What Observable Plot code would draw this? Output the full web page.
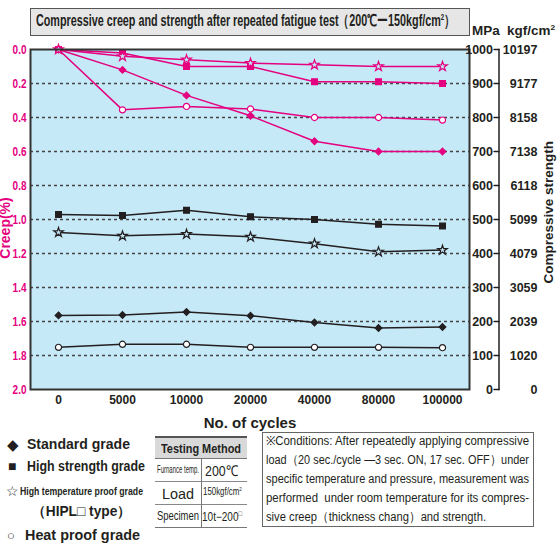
<!DOCTYPE html>
<html><head><meta charset="utf-8">
<script src="https://cdn.jsdelivr.net/npm/d3@7"></script>
<script src="https://cdn.jsdelivr.net/npm/@observablehq/plot@0.6"></script>
<style>
body{margin:0;background:#fff;}
#wrap{position:relative;width:559px;height:545px;font-family:"Liberation Sans",Arial,sans-serif;color:#231f20;overflow:hidden;}
#chart{position:absolute;left:0;top:0;}
#titlebox{position:absolute;left:30px;top:8px;width:438px;height:26px;border:1px solid #555;background:#e6e6e6;}
.fit{position:absolute;white-space:nowrap;transform-origin:0 50%;line-height:1;}
.hl{position:absolute;height:0;}
.vl{position:absolute;width:0;}
#cond{position:absolute;left:262px;top:432px;width:270px;height:93px;border:1px solid #666;}
</style></head><body>
<div id="wrap">
  <div id="chart"></div>
  <div id="titlebox"></div>
  <div id="tablebox">
    <div style="position:absolute;left:155px;top:437px;width:92px;height:21px;background:#d9d9d9;"></div>
    <div class="hl" style="left:155px;top:436px;width:92px;border-top:2px solid #555;"></div>
    <div class="hl" style="left:155px;top:458px;width:92px;border-top:1px solid #777;"></div>
    <div class="hl" style="left:155px;top:481px;width:92px;border-top:1px solid #888;"></div>
    <div class="hl" style="left:155px;top:504px;width:92px;border-top:1px solid #888;"></div>
    <div class="hl" style="left:155px;top:527px;width:92px;border-top:1px solid #777;"></div>
    <div class="vl" style="left:201px;top:458px;height:69px;border-left:1px solid #777;"></div>
  </div>
  <div id="cond"></div>
  <div id="texts"></div>
</div>
<script>
// ---- data ----
const cycles = ["0", "5000", "10000", "20000", "40000", "80000", "100000"];
const grades = ["Standard grade", "High strength grade", "High temperature proof grade", "Heat proof grade"];
const gradeSymbols = ["diamond2", "square", "star", "circle"];

// creep (%) vs cycles
const creepStandard     = [0, 0.12, 0.27, 0.39, 0.54, 0.60, 0.60];
const creepHighStrength = [0, 0.02, 0.10, 0.10, 0.19, 0.19, 0.20];
const creepHighTemp     = [0, 0.04, 0.06, 0.08, 0.09, 0.10, 0.10];
const creepHeatProof    = [0, 0.355, 0.335, 0.35, 0.40, 0.40, 0.415];

// compressive strength (MPa) vs cycles
const strengthStandard     = [218, 219, 228, 217, 197, 181, 184];
const strengthHighStrength = [515, 512, 527, 508, 500, 486, 481];
const strengthHighTemp     = [462, 452, 457, 449, 429, 405, 410];
const strengthHeatProof    = [124, 133, 133, 124, 124, 124, 123];

// axes
const creepTicks = [0, 0.2, 0.4, 0.6, 0.8, 1.0, 1.2, 1.4, 1.6, 1.8, 2.0];
const mpaTicks = [1000, 900, 800, 700, 600, 500, 400, 300, 200, 100, 0];
const kgfTicks = ["10197", "9177", "8158", "7138", "6118", "5099", "4079", "3059", "2039", "1020", "0"];
const gridTicks = [0.2, 0.4, 0.6, 0.8, 1.0, 1.2, 1.4, 1.6, 1.8];

// texts
const titleText = "Compressive creep and strength after repeated fatigue test（200℃ー150kgf/cm<sup style=\"font-size:9px\">2</sup>）";
const conditionLines = [
  "※Conditions: After repeatedly applying compressive",
  "load（20 sec./cycle —3 sec. ON, 17 sec. OFF）under",
  "specific temperature and pressure, measurement was",
  "performed&nbsp; under room temperature for its compres-",
  "sive creep（thickness chang）and strength."
];

// ---- build table ----
const MAG = "#e4007f", BLK = "#231f20", BG = "#c6e9f8";
const creepSets = [creepStandard, creepHighStrength, creepHighTemp, creepHeatProof];
const strengthSets = [strengthStandard, strengthHighStrength, strengthHighTemp, strengthHeatProof];
const rows = [];
grades.forEach((g, gi) => {
  cycles.forEach((c, i) => {
    rows.push({grade: g, kind: "creep", cycle: c, y: creepSets[gi][i], symbol: gradeSymbols[gi]});
    // strength on the shared scale: 1000 MPa ↔ 0 %, 0 MPa ↔ 2 %
    rows.push({grade: g, kind: "strength", cycle: c, y: (1000 - strengthSets[gi][i]) / 500, symbol: gradeSymbols[gi]});
  });
});
const color = d => d.kind === "creep" ? MAG : BLK;
const fillFor = d => d.symbol === "circle" ? "#fff" : d.symbol === "star" ? BG : color(d);
const rFor = d => d.symbol === "diamond2" ? 4.6 : d.symbol === "square" ? 5.4 : d.symbol === "star" ? 4.5 : 4.8;
const tickShape = {draw(ctx, l) { ctx.moveTo(0, 0); ctx.lineTo(0, -l); }};
const FONT = '"Liberation Sans", Arial, sans-serif';

const chart = Plot.plot({
  width: 559,
  height: 440,
  marginTop: 49,
  marginBottom: 51,
  marginLeft: 30,
  marginRight: 90,
  style: {fontFamily: FONT, background: "transparent"},
  x: {type: "point", domain: cycles, padding: 0.4},
  y: {domain: [0, 2], reverse: true},
  marks: [
    Plot.frame({fill: BG}),
    Plot.ruleY(gridTicks, {stroke: "#444", strokeWidth: 1.4, strokeDasharray: "3,3"}),
    Plot.line(rows, {x: "cycle", y: "y", z: d => d.grade + d.kind, stroke: color, strokeWidth: 1.5}),
    Plot.dot(rows, {x: "cycle", y: "y", symbol: "symbol", r: rFor, fill: fillFor, stroke: color, strokeWidth: 1.2}),
    Plot.frame({stroke: "#333", strokeWidth: 2}),
    // left axis (creep)
    Plot.axisY(creepTicks, {anchor: "left", tickSize: 0, tickPadding: 4, tickFormat: d => d.toFixed(1), fill: MAG, fontWeight: "bold", fontSize: 12.5, label: null}),
    Plot.text(["Creep(%)"], {y: () => 1.05, frameAnchor: "left", textAnchor: "middle", rotate: -90, dx: -25, fill: MAG, fontWeight: "bold", fontSize: 14}),
    // x axis
    Plot.axisX(cycles, {tickSize: 0, tickPadding: 6, fontWeight: "bold", fontSize: 12, label: null, fill: BLK}),
    Plot.text(["No. of cycles"], {frameAnchor: "bottom", dy: 38, fontWeight: "bold", fontSize: 15, fill: BLK}),
    // right axis (strength)
    Plot.frame({anchor: "right", dx: 29.5, stroke: BLK, strokeWidth: 1.5}),
    Plot.vector(creepTicks, {y: d => d, frameAnchor: "right", dx: 29.5, rotate: -90, length: 5, anchor: "start", shape: tickShape, stroke: BLK, strokeWidth: 1.3}),
    Plot.text(creepTicks, {y: d => d, text: (d, i) => String(mpaTicks[i]), frameAnchor: "right", dx: 23.5, textAnchor: "end", fontWeight: "bold", fontSize: 12.5, fill: BLK, ariaLabel: "mpa-label"}),
    Plot.text(creepTicks, {y: d => d, text: (d, i) => kgfTicks[i], frameAnchor: "right", dx: 68, textAnchor: "end", fontWeight: "bold", fontSize: 12.5, fill: BLK, ariaLabel: "kgf-label"}),
    Plot.text(["Compressive strength"], {y: () => 0.957, frameAnchor: "right", textAnchor: "middle", rotate: -90, dx: 79, fontWeight: "bold", fontSize: 13.5, fill: BLK})
  ]
});
document.getElementById("chart").appendChild(chart);

// condense SVG labels like the reference's narrow typeface
function condense(sel, f) {
  d3.select(chart).selectAll(sel).each(function () {
    const L = this.getComputedTextLength();
    this.setAttribute("textLength", (L * f).toFixed(1));
    this.setAttribute("lengthAdjust", "spacingAndGlyphs");
  });
}
condense('g[aria-label="y-axis tick label"] text', 0.8);
condense('g[aria-label="mpa-label"] text', 0.74);
condense('g[aria-label="kgf-label"] text', 0.93);

// ---- HTML texts, horizontally fitted to the reference widths ----
const textsEl = document.getElementById("texts");
function place(html, {left, cx, cy, width, size, weight = "normal", color = BLK, scale}) {
  const d = document.createElement("div");
  d.className = "fit";
  d.innerHTML = html;
  d.style.fontSize = size + "px";
  d.style.fontWeight = weight;
  d.style.color = color;
  textsEl.appendChild(d);
  const r = d.getBoundingClientRect();
  const k = scale != null ? scale : width / r.width;
  const x0 = left != null ? left : cx - r.width * k / 2;
  d.style.left = x0 + "px";
  d.style.top = (cy - r.height / 2) + "px";
  d.style.transform = `scaleX(${k})`;
  return k;
}
// title & units
place(titleText, {left: 36, cy: 21.5, width: 419, size: 16, weight: "bold"});
place("MPa&nbsp; kgf/cm<sup style=\"font-size:8px\">2</sup>", {left: 472, cy: 31, width: 83, size: 13, weight: "bold"});

// legend
const legendItems = [
  {mark: "◆", mx: 7, ms: 15, text: "Standard grade", tx: 27, tw: 103, cy: 444, size: 14},
  {mark: "■", mx: 8, ms: 14, text: "High strength grade", tx: 27, tw: 118, cy: 466, size: 14},
  {mark: "☆", mx: 6, ms: 14, text: "High temperature proof grade", tx: 20, tw: 123, cy: 491, size: 11},
  {mark: "", mx: 0, ms: 0, text: "（HIPL□ type）", tx: 32, tw: 99, cy: 511, size: 14},
  {mark: "○", mx: 7, ms: 13, text: "Heat proof grade", tx: 25, tw: 115, cy: 535, size: 14}
];
legendItems.forEach(it => {
  if (it.mark) place(it.mark, {left: it.mx, cy: it.cy, scale: 1, size: it.ms, weight: "normal"});
  place(it.text, {left: it.tx, cy: it.cy, width: it.tw, size: it.size, weight: "bold"});
});

// testing method table
place("Testing Method", {cx: 201, cy: 448, width: 80, size: 13, weight: "bold"});
place("Furnance temp.", {cx: 178, cy: 470, width: 42, size: 10});
place("200℃", {cx: 221, cy: 470, width: 33, size: 15});
place("Load", {cx: 178, cy: 493, width: 32, size: 15});
place("150kgf/cm<sup style=\"font-size:6px\">2</sup>", {cx: 222, cy: 492, width: 39, size: 10});
place("Specimen", {cx: 178, cy: 516, width: 42, size: 12.5});
place("10t−200<sup style=\"font-size:7px\">□</sup>", {cx: 222, cy: 516, width: 40, size: 12});

// conditions box
let ks = [];
conditionLines.forEach((line, i) => {
  const cy = 441.5 + i * 19;
  if (i < conditionLines.length - 1) ks.push(place(line, {left: 266, cy, width: 263, size: 12.5}));
  else place(line, {left: 266, cy, scale: d3.mean(ks), size: 12.5});
});
</script>
</body></html>
